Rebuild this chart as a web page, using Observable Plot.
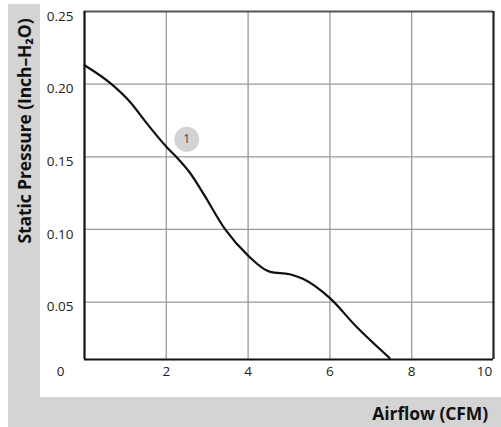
<!DOCTYPE html>
<html><head><meta charset="utf-8">
<script src="https://cdn.jsdelivr.net/npm/d3@7"></script>
<script src="https://cdn.jsdelivr.net/npm/@observablehq/plot@0.6"></script>
<style>
body{margin:0;background:#fff;}
#wrap{position:relative;width:501px;height:427px;overflow:hidden;font-family:"Open Sans",sans-serif;}
.band{position:absolute;background:#d4d4d4;}
#chart{position:absolute;left:0;top:0;}
#ylab{position:absolute;left:24px;top:131px;transform:translate(-50%,-50%) rotate(-90deg);white-space:nowrap;font-weight:700;font-size:17.5px;color:#111;letter-spacing:-0.1px;}
#xlab{position:absolute;right:13px;top:413px;transform:translateY(-50%);white-space:nowrap;font-weight:700;font-size:17.5px;color:#111;letter-spacing:-0.1px;}
</style></head>
<body>
<div id="wrap">
  <div class="band" style="left:8px;top:4px;width:32px;height:423px;"></div>
  <div class="band" style="left:8px;top:397px;width:493px;height:30px;"></div>
  <div id="chart"></div>
  <div id="ylab">Static Pressure (Inch–H₂O)</div>
  <div id="xlab">Airflow (CFM)</div>
</div>
<script>
const airflow  = [0, 0.66, 1.12, 1.53, 2.0, 2.26, 2.59, 2.91, 3.44, 4.0, 4.54, 5.02, 5.34, 6.0, 6.65, 7.46];
const pressure = [0.213, 0.200, 0.1876, 0.1728, 0.157, 0.1495, 0.1385, 0.1245, 0.100, 0.082, 0.0708, 0.0692, 0.066, 0.0527, 0.033, 0.0115];
const xTicks = [0, 2, 4, 6, 8, 10];
const yTicks = [0.05, 0.10, 0.15, 0.20, 0.25];
const badge = [{x: 2.5, y: 0.162, label: "1"}];

const curve = airflow.map((a, i) => ({x: a, y: pressure[i]}));
const xDom = [0, 10], yDom = [0.0105, 0.25];
const midTicks = xTicks.filter(d => d > xDom[0] && d < xDom[1]);

const plot = Plot.plot({
  width: 501, height: 427,
  marginLeft: 84, marginRight: 8, marginTop: 11, marginBottom: 68,
  style: {background: "transparent", fontFamily: "'Open Sans', sans-serif", fontSize: "13.5px", color: "#222"},
  x: {domain: xDom, axis: null},
  y: {domain: yDom, axis: null},
  marks: [
    Plot.ruleX(midTicks, {stroke: "#999", strokeWidth: 1.3}),
    Plot.ruleY(yTicks.filter(d => d < 0.25), {stroke: "#999", strokeWidth: 1.3}),
    Plot.ruleY([0.25], {stroke: "#555", strokeWidth: 2}),
    Plot.ruleY([yDom[0]], {stroke: "#111", strokeWidth: 2.2}),
    Plot.ruleX([0], {stroke: "#111", strokeWidth: 2.2}),
    Plot.ruleX([10], {stroke: "#222", strokeWidth: 2.2}),
    Plot.line(curve, {x: "x", y: "y", curve: "monotone-x", stroke: "#111", strokeWidth: 2.2}),
    Plot.dot(badge, {x: "x", y: "y", r: 12.5, fill: "#d3d3d3", stroke: null}),
    Plot.text(badge, {x: "x", y: "y", text: "label", fill: "#444", fontSize: 12}),
    Plot.text(yTicks, {x: xDom[0], y: d => d, text: d => d3.format(".2f")(d), textAnchor: "end", dx: -11, dy: 5, fill: "#222", fontSize: 13.5}),
    Plot.text(midTicks, {x: d => d, frameAnchor: "bottom", dy: 16, text: d => String(d), fill: "#222", fontSize: 13.5}),
    Plot.text([xTicks[0]], {x: d => d, frameAnchor: "bottom", dy: 16, dx: -24, text: d => String(d), fill: "#222", fontSize: 13.5}),
    Plot.text([xTicks[xTicks.length - 1]], {x: d => d, frameAnchor: "bottom", dy: 16, dx: -9, text: d => String(d), fill: "#222", fontSize: 13.5}),
  ]
});
document.getElementById("chart").appendChild(plot);
</script>
</body></html>
